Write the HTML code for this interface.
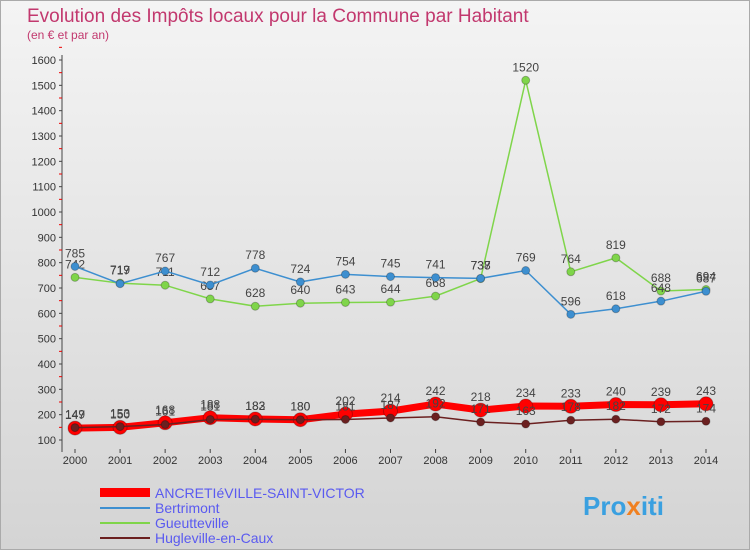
<!DOCTYPE html>
<html><head><meta charset="utf-8"><style>
body{margin:0;width:750px;height:550px;overflow:hidden;font-family:"Liberation Sans",sans-serif;}
#wrap{position:absolute;left:0;top:0;width:748px;height:548px;border:1px solid #aaa;background:linear-gradient(#f4f4f4,#d4d4d4);}
</style></head><body>
<div id="wrap">
<svg id="chart" width="750" height="550" style="position:absolute;left:-1px;top:-1px">
<text x="27" y="22" font-size="19" fill="#c2386e">Evolution des Impôts locaux pour la Commune par Habitant</text>
<text x="27" y="39" font-size="12" fill="#c2386e">(en € et par an)</text>
<g id="axes"></g><g id="series"></g>
<g>
<rect x="100" y="488" width="50" height="9" fill="#ff0000"/>
<text x="155" y="498" font-size="14" fill="#5a5af0">ANCRETIéVILLE-SAINT-VICTOR</text>
<line x1="100" y1="508" x2="150" y2="508" stroke="#3d8fd0" stroke-width="2"/>
<text x="155" y="513" font-size="14" fill="#5a5af0">Bertrimont</text>
<line x1="100" y1="523" x2="150" y2="523" stroke="#7fd54a" stroke-width="2"/>
<text x="155" y="528" font-size="14" fill="#5a5af0">Gueutteville</text>
<line x1="100" y1="538" x2="150" y2="538" stroke="#6b2020" stroke-width="2"/>
<text x="155" y="543" font-size="14" fill="#5a5af0">Hugleville-en-Caux</text>
</g>
<text x="583" y="515" font-size="26" font-weight="bold" fill="#3aa0e0">Pro<tspan fill="#f08020">x</tspan>iti</text>
</svg>
</div>
<script>
const years=[2000,2001,2002,2003,2004,2005,2006,2007,2008,2009,2010,2011,2012,2013,2014];
const yTicks=[100,200,300,400,500,600,700,800,900,1000,1100,1200,1300,1400,1500,1600];
const ancretieville=[147,150,168,188,183,180,202,214,242,218,234,233,240,239,243];
const bertrimont=[785,717,767,712,778,724,754,745,741,738,769,596,618,648,687];
const gueutteville=[742,719,711,657,628,640,643,644,668,737,1520,764,819,688,694];
const hugleville=[149,153,161,181,182,180,181,187,192,171,163,178,182,172,174];
const NS="http://www.w3.org/2000/svg";
function X(i){return 75+i*(706-75)/14;}
function Y(v){return 440-(v-100)*380/1500;}
function mk(t,a,p){const e=document.createElementNS(NS,t);for(const k in a)e.setAttribute(k,a[k]);p.appendChild(e);return e;}
const ax=document.getElementById('axes');
mk('line',{x1:62,y1:55,x2:62,y2:452,stroke:'#444'},ax);
yTicks.forEach(v=>{
 const t=mk('text',{x:56,y:Y(v)+4,'font-size':11,'text-anchor':'end',fill:'#333'},ax);t.textContent=v;
 
 
 mk('line',{x1:59,y1:Y(v),x2:62,y2:Y(v),stroke:'#444'},ax);
 mk('line',{x1:59,y1:Y(v+50),x2:62,y2:Y(v+50),stroke:'#e00'},ax);
});
years.forEach((y,i)=>{
 const t=mk('text',{x:X(i),y:464,'font-size':11,'text-anchor':'middle',fill:'#333'},ax);t.textContent=y;
 
 
 mk('line',{x1:X(i),y1:449,x2:X(i),y2:453,stroke:'#444'},ax);
});
const sg=document.getElementById('series');
function series(data,name,color,w,r){
 const g=mk('g',{},sg);
 
 
 mk('polyline',{points:data.map((v,i)=>X(i)+','+Y(v)).join(' '),fill:'none',stroke:color,'stroke-width':w},g);
 data.forEach((v,i)=>{
  const c=mk('circle',{cx:X(i),cy:Y(v),r:r,fill:color,stroke:'rgba(0,0,0,0.25)'},g);
  
  
  const t=mk('text',{x:X(i),y:Y(v)-9,'font-size':12,'text-anchor':'middle',fill:'#444'},g);t.textContent=v;
  
  
 });
}
series(gueutteville,'gueutteville','#7fd54a',1.5,4);
series(bertrimont,'bertrimont','#3d8fd0',1.5,4);
series(ancretieville,'ancretieville','#ff0000',7,7);
series(hugleville,'hugleville','#6b2020',1.5,4);
</script>
</body></html>
